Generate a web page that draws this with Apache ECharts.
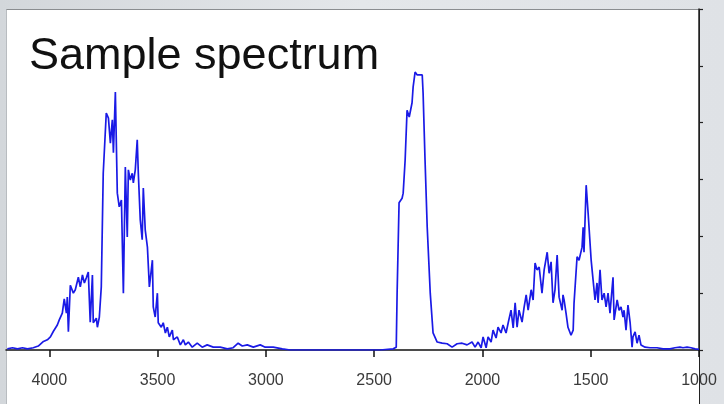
<!DOCTYPE html>
<html>
<head>
<meta charset="utf-8">
<script src="https://cdn.jsdelivr.net/npm/echarts@6/dist/echarts.min.js"></script>
<style>
html,body{margin:0;padding:0;width:724px;height:404px;overflow:hidden;}
body{background:linear-gradient(90deg,#d3d7db 0%,#e4e7ea 50%,#dfe2e6 100%);position:relative;}
#paper{position:absolute;left:6px;top:9px;width:692px;height:395px;background:#fff;border-left:1px solid #b8bcc0;border-top:1px solid #8a8d90;border-right:1.5px solid #222;}
#chart{position:absolute;left:0;top:0;width:724px;height:404px;}
</style>
</head>
<body>
<div id="paper"></div>
<div id="chart"></div>
<script>
// Spectrum data: [wavenumber (cm-1), absorbance]
const band3700 = [
  [4194,0.02],[4170,0.04],[4147,0.02],[4124,0.04],[4101,0.02],[4074,0.04],[4051,0.07],[4027,0.15],
  [4009,0.18],[3995,0.23],[3981,0.33],[3963,0.44],[3954,0.53],[3940,0.65],[3931,0.90],[3921,0.65],
  [3917,0.93],[3912,0.32],[3903,1.14],[3889,1.00],[3880,1.06],[3866,1.28],[3857,1.11],[3847,1.32],
  [3838,1.18],[3829,1.27],[3820,1.37],[3811,0.49],[3801,1.32],[3797,0.48],[3783,0.56],[3778,0.40],
  [3769,0.58],[3760,1.11],[3751,3.11],[3737,4.17],[3727,4.08],[3718,3.64],[3709,4.05],[3704,3.47],
  [3695,4.54],[3686,2.76],[3677,2.52],[3667,2.64],[3658,1.00],[3649,3.22],[3640,1.99],[3635,3.17],
  [3626,2.99],[3617,3.11],[3612,2.94],[3603,3.17],[3594,3.70],[3589,3.11],[3580,2.29],[3571,1.94],
  [3566,2.85],[3557,2.11],[3547,1.81],[3538,1.11],[3524,1.58],[3520,0.76],[3511,0.58],[3501,1.00],
  [3497,0.48],[3483,0.40],[3474,0.48],[3464,0.30],[3455,0.40],[3446,0.23],[3432,0.35],[3427,0.18],
  [3409,0.23],[3395,0.09],[3381,0.18],[3372,0.09],[3358,0.14],[3340,0.05],[3317,0.12],[3294,0.05],
  [3271,0.09],[3243,0.05],[3211,0.05],[3178,0.02],[3151,0.04],[3128,0.12],[3109,0.07],[3086,0.09],
  [3058,0.05],[3026,0.09],[3003,0.05],[2966,0.05],[2924,0.02],[2888,0.00]
];
const band2300 = [
  [2472,0.00],[2412,0.02],[2398,0.05],[2394,1.00],[2385,2.59],[2371,2.67],[2366,2.76],[2357,3.34],
  [2348,4.22],[2338,4.10],[2325,4.35],[2320,4.63],[2311,4.89],[2301,4.84],[2292,4.87],[2278,4.84],
  [2274,4.52],[2265,3.34],[2255,2.16],[2241,1.00],[2228,0.30],[2209,0.14],[2186,0.12],[2163,0.11]
];
const band1600 = [
  [2140,0.05],[2117,0.11],[2094,0.12],[2071,0.09],[2048,0.14],[2034,0.05],[2020,0.14],[2006,0.04],
  [1997,0.23],[1983,0.04],[1974,0.23],[1960,0.14],[1951,0.35],[1937,0.21],[1928,0.40],[1914,0.30],
  [1905,0.44],[1891,0.30],[1881,0.48],[1868,0.70],[1858,0.39],[1849,0.83],[1840,0.40],[1831,0.70],
  [1817,0.49],[1808,0.74],[1798,0.97],[1789,0.70],[1775,1.06],[1766,0.88],[1757,1.53],[1748,1.41],
  [1738,1.46],[1725,1.00],[1715,1.41],[1701,1.72],[1692,1.35],[1683,1.55],[1674,0.83],[1665,1.06],
  [1655,1.67],[1646,0.93],[1632,0.70],[1628,0.97],[1623,0.88],[1614,0.65],[1605,0.40],[1591,0.26],
  [1581,0.35],[1577,0.83],[1568,0.83],[1563,1.64],[1554,1.58],[1540,1.81],[1535,2.16],[1531,1.72],
  [1521,2.90],[1512,2.41],[1498,1.58],[1489,1.23],[1480,0.88],[1471,1.18],[1466,0.83],[1457,1.41],
  [1448,0.88],[1438,1.00],[1429,0.76],[1420,1.00],[1411,0.65],[1397,1.28],[1392,0.53],[1378,0.88],
  [1369,0.70],[1360,0.76],[1351,0.58],[1346,0.70],[1337,0.35],[1328,0.79],[1318,0.48],[1309,0.05],
  [1305,0.23],[1295,0.32],[1286,0.12],[1277,0.26],[1268,0.09],[1249,0.05],[1226,0.04],[1194,0.04],
  [1166,0.02],[1134,0.02],[1111,0.04],[1088,0.05],[1074,0.04],[1055,0.05],[1037,0.04],[1018,0.02],
  [1000,0.01]
];
const xTicks = [4000,3500,3000,2500,2000,1500,1000];
const yTicks = [0,1,2,3,4,5,6];
const titleText = 'Sample spectrum';

const spectrum = band3700.concat(band2300, band1600);

const chart = echarts.init(document.getElementById('chart'), null, {renderer:'canvas'});
chart.setOption({
  backgroundColor: 'transparent',
  animation: false,
  title: {
    text: titleText,
    left: 24, top: 29,
    textStyle: {fontFamily:'Liberation Sans, Arial, sans-serif', fontSize: 45, fontWeight: 'normal', color: '#111'}
  },
  grid: {left: 6, right: 25, top: 9, bottom: 54},
  xAxis: {
    type: 'value', min: 1000, max: 4200, interval: 500, inverse: true,
    axisLine: {show: true, lineStyle: {color: '#111', width: 1.5}},
    axisTick: {show: true, inside: false, length: 7, lineStyle: {color: '#111', width: 1.5}, customValues: xTicks},
    axisLabel: {customValues: xTicks, margin: 23, formatter: function (v) { return String(v); },
      fontFamily: 'Liberation Sans, Arial, sans-serif', fontSize: 16, color: '#3a3a3a'},
    splitLine: {show: false}
  },
  yAxis: {
    type: 'value', position: 'right', min: 0, max: 6, interval: 1,
    axisLine: {show: true, lineStyle: {color: '#222', width: 1.5}},
    axisTick: {show: true, inside: false, length: 4, lineStyle: {color: '#222', width: 1.2}, customValues: yTicks},
    axisLabel: {show: false},
    splitLine: {show: false}
  },
  series: [{
    type: 'line',
    data: spectrum,
    showSymbol: false,
    lineStyle: {color: '#1a1ae6', width: 1.7},
    z: 3
  }]
});
</script>
</body>
</html>
